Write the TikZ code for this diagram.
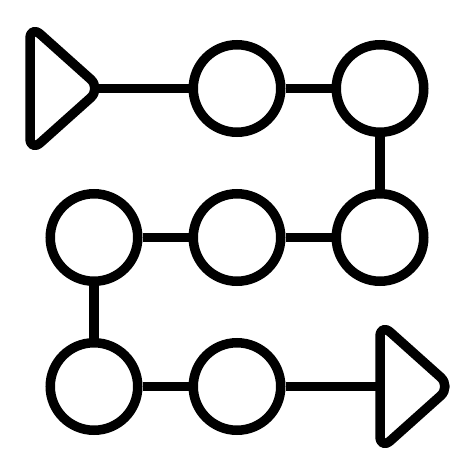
\documentclass[tikz,border=0pt]{standalone}
\begin{document}
\begin{tikzpicture}[x=1pt,y=-1pt,
  dot/.style={circle,draw=black,line width=9.5pt,inner sep=0pt,minimum size=87.5pt},
  link/.style={draw=black,line width=9.5pt},
  tri/.style={draw=black,line width=9.5pt,rounded corners=14pt,line join=round}]
\fill[white] (0,0) rectangle (474,474);
\useasboundingbox (0,0) rectangle (474,474);
% circles
\node[dot] (c12) at (237,88.5) {};
\node[dot] (c13) at (380,88.5) {};
\node[dot] (c21) at (94,237.5) {};
\node[dot] (c22) at (237,237.5) {};
\node[dot] (c23) at (380,237.5) {};
\node[dot] (c31) at (94,386.5) {};
\node[dot] (c32) at (237,386.5) {};
% triangles
\draw[tri] (30,88.5) -- (30,25) -- (101,88.5) -- (30,152) -- cycle;
\coordinate (t1) at (95,88.5);
\draw[tri] (380,386.5) -- (380,323) -- (451,386.5) -- (380,450) -- cycle;
\coordinate (t2) at (380,386.5);
% connectors
\draw[link] (t1) -- (c12);
\draw[link] (c12) -- (c13);
\draw[link] (c13) -- (c23);
\draw[link] (c23) -- (c22);
\draw[link] (c22) -- (c21);
\draw[link] (c21) -- (c31);
\draw[link] (c31) -- (c32);
\draw[link] (c32) -- (t2);
\end{tikzpicture}
\end{document}
